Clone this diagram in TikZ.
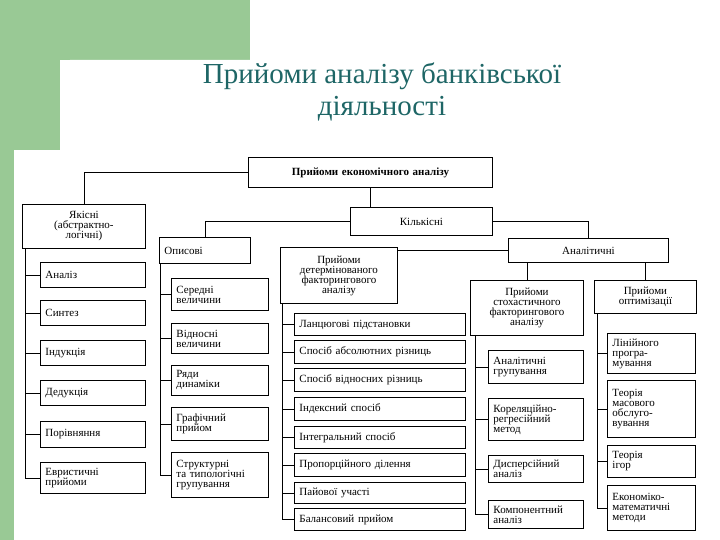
\documentclass[tikz,border=0pt]{standalone}
\usepackage{fontspec}
\setmainfont{Liberation Serif}
\begin{document}
\begin{tikzpicture}[x=1pt,y=1pt,
  box/.style={draw,line width=0.9pt,inner xsep=5pt,inner ysep=1pt,font=\fontsize{11}{10}\selectfont},
  ln/.style={line width=0.8pt}]
\definecolor{gr}{HTML}{99C995}
\definecolor{tt}{HTML}{1E6666}
\useasboundingbox (0,0) rectangle (720,-540);
\fill[white] (0,0) rectangle (720,-540);
\fill[gr] (0,0) rectangle (250,-60);
\fill[gr] (0,0) rectangle (60,-150);
\fill[gr] (0,-150) rectangle (14,-540);
\fill[white] (60,-150) -- (60,-70) arc (180:90:10) -- (250,-60) -- (250,-150) -- cycle;
\node[text=tt,font=\fontsize{29}{32}\selectfont,align=center] (title) at (382,-92) {Прийоми аналізу банківської\\діяльності};
\newcommand\bx[7]{\pgfmathsetmacro\bw{#4-#2-10}\pgfmathsetmacro\bh{#5-#3}%
  \node[box,anchor=north west,text width=\bw pt,minimum height=\bh pt,align=#6] (#1) at (#2,-#3) {#7};}
\bx{top}{248}{157}{492}{187}{center}{\textbf{Прийоми економічного аналізу}}
\bx{kil}{350}{207}{492}{235}{center}{Кількісні}
\bx{yak}{22}{204}{145}{248}{center}{Якісні\\(абстрактно-\\логічні)}
\bx{opys}{159}{237}{250}{263}{left}{Описові}
\bx{det}{280}{247}{397}{303}{center}{Прийоми\\детермінованого\\факторингового\\аналізу}
\bx{anal}{508}{238}{668}{262}{center}{Аналітичні}
\bx{sto}{470}{280}{583}{335}{center}{Прийоми\\стохастичного\\факторингового\\аналізу}
\bx{opt}{594}{280}{696}{313}{center}{Прийоми\\оптимізації}
% Якісні
\bx{a1}{40}{262}{145}{287}{left}{Аналіз}
\bx{a2}{40}{300}{145}{325}{left}{Синтез}
\bx{a3}{40}{340}{145}{365}{left}{Індукція}
\bx{a4}{40}{380}{145}{405}{left}{Дедукція}
\bx{a5}{40}{421}{145}{447}{left}{Порівняння}
\bx{a6}{40}{462}{145}{493}{left}{Евристичні\\прийоми}
% Описові
\bx{b1}{171}{278}{268}{310}{left}{Середні\\величини}
\bx{b2}{171}{323}{268}{353}{left}{Відносні\\величини}
\bx{b3}{171}{365}{268}{395}{left}{Ряди\\динаміки}
\bx{b4}{171}{407}{268}{440}{left}{Графічний\\прийом}
\bx{b5}{171}{452}{268}{497}{left}{Структурні\\та типологічні\\групування}
% Детерміновані
\bx{c1}{294}{313}{465}{335}{left}{Ланцюгові підстановки}
\bx{c2}{294}{340}{465}{363}{left}{Спосіб абсолютних різниць}
\bx{c3}{294}{368}{465}{391}{left}{Спосіб відносних різниць}
\bx{c4}{294}{397}{465}{420}{left}{Індексний спосіб}
\bx{c5}{294}{426}{465}{448}{left}{Інтегральний спосіб}
\bx{c6}{294}{453}{465}{476}{left}{Пропорційного ділення}
\bx{c7}{294}{482}{465}{503}{left}{Пайової участі}
\bx{c8}{294}{508}{465}{530}{left}{Балансовий прийом}
% Стохастичні
\bx{d1}{488}{350}{583}{383}{left}{Аналітичні\\групування}
\bx{d2}{488}{398}{583}{440}{left}{Кореляційно-\\регресійний\\метод}
\bx{d3}{488}{455}{583}{482}{left}{Дисперсійний\\аналіз}
\bx{d4}{488}{500}{583}{528}{left}{Компонентний\\аналіз}
% Оптимізації
\bx{e1}{607}{333}{695}{373}{left}{Лінійного\\програ-\\мування}
\bx{e2}{607}{380}{695}{437}{left}{Теорія\\масового\\обслуго-\\вування}
\bx{e3}{607}{445}{695}{477}{left}{Теорія\\ігор}
\bx{e4}{607}{485}{695}{530}{left}{Економіко-\\математичні\\методи}
% connectors
\draw[ln] (top.west) -| (yak.north);
\draw[ln] (top.south) -- (kil.north -| top.south);
\draw[ln] (kil.west) -| (opys.north);
\draw[ln] (kil.east) -| (anal.north);
\draw[ln] (anal.west) -- (anal.west -| det.east);
\draw[ln] (anal.south -| sto.north) -- (sto.north);
\draw[ln] (anal.south -| opt.north) -- (opt.north);
\coordinate (ya) at (25,-248);
\coordinate (op) at (160,-263);
\coordinate (de) at (282,-303);
\coordinate (st) at (475,-335);
\coordinate (oo) at (597,-313);
\foreach \n in {a1,a2,a3,a4,a5,a6} \draw[ln] (ya) |- (\n.west);
\foreach \n in {b1,b2,b3,b4,b5} \draw[ln] (op) |- (\n.west);
\foreach \n in {c1,c2,c3,c4,c5,c6,c7,c8} \draw[ln] (de) |- (\n.west);
\foreach \n in {d1,d2,d3,d4} \draw[ln] (st) |- (\n.west);
\foreach \n in {e1,e2,e3,e4} \draw[ln] (oo) |- (\n.west);
\end{tikzpicture}
\end{document}
